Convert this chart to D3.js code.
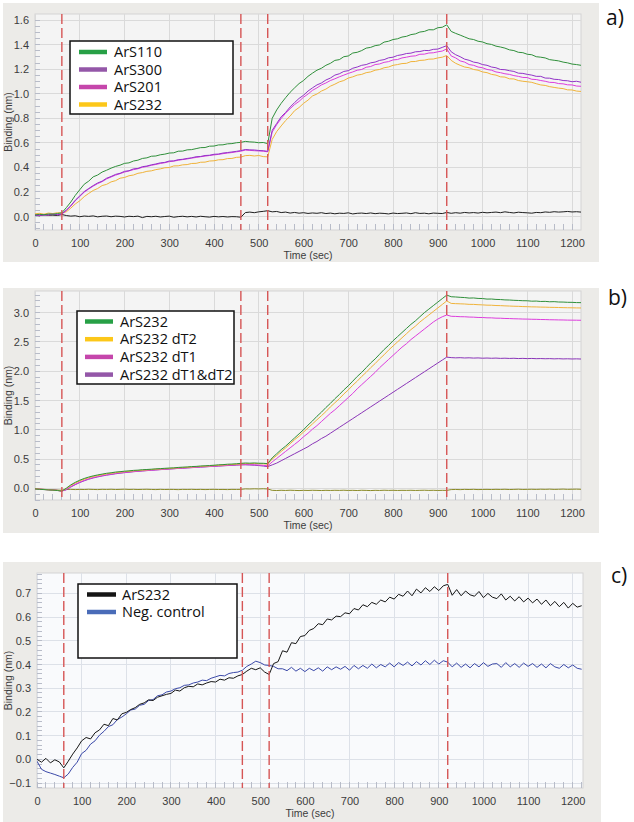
<!DOCTYPE html>
<html><head><meta charset="utf-8">
<script src="https://cdn.jsdelivr.net/npm/d3@7/dist/d3.min.js"></script>
<style>html,body{margin:0;padding:0;background:#fff;} svg{display:block;}</style>
</head><body>
<svg id="chart" width="634" height="822"></svg>
<script>
// ---------- DATA ----------
const timeSec = [0,10,20,30,40,50,60,70,80,90,100,110,120,130,140,150,160,170,180,190,200,210,220,230,240,250,260,270,280,290,300,310,320,330,340,350,360,370,380,390,400,410,420,430,440,450,460,470,480,490,500,510,520,530,540,550,560,570,580,590,600,610,620,630,640,650,660,670,680,690,700,710,720,730,740,750,760,770,780,790,800,810,820,830,840,850,860,870,880,890,900,910,920,930,940,950,960,970,980,990,1000,1010,1020,1030,1040,1050,1060,1070,1080,1090,1100,1110,1120,1130,1140,1150,1160,1170,1180,1190,1200,1210,1220];
const xTickValues = [0,100,200,300,400,500,600,700,800,900,1000,1100,1200];
const stepMarkers = [60,460,520,920];

// panel a
const aNames = ["ArS110","ArS300","ArS201","ArS232"];
const aArS110 = [0.012,0.018,0.014,0.021,0.019,0.024,0.03,
0.072,0.118,0.172,0.218,0.263,0.288,0.323,0.338,0.362,
0.377,0.394,0.408,0.418,0.433,0.437,0.452,0.459,0.473,0.478,
0.491,0.493,0.503,0.508,0.517,0.519,0.532,0.533,0.543,0.545,
0.553,0.561,0.562,0.573,0.574,0.583,0.584,0.592,0.594,0.601,
0.604,0.612,0.608,0.606,0.601,0.603,0.594,
0.8,0.868,0.922,0.968,1.012,1.048,1.083,1.108,1.142,1.168,
1.192,1.208,1.232,1.248,1.272,1.278,1.302,1.308,1.332,1.338,
1.352,1.372,1.378,1.392,1.398,1.421,1.428,1.442,1.448,1.462,
1.468,1.482,1.488,1.503,1.508,1.522,1.521,1.538,1.542,1.562,
1.508,1.492,1.478,1.463,1.448,1.442,1.428,1.422,1.408,1.402,
1.388,1.381,1.372,1.358,1.352,1.338,1.335,1.322,1.318,1.302,
1.298,1.292,1.278,1.273,1.268,1.258,1.252,1.242,1.238,1.232];
const aArS300 = [0.008,0.014,0.011,0.016,0.019,0.013,0.021,
0.052,0.088,0.133,0.168,0.203,0.228,0.252,0.273,0.288,
0.312,0.326,0.343,0.352,0.368,0.373,0.388,0.392,0.406,0.411,
0.421,0.428,0.437,0.441,0.452,0.453,0.463,0.466,0.473,0.478,
0.487,0.489,0.497,0.499,0.507,0.509,0.517,0.521,0.526,0.531,
0.537,0.546,0.543,0.542,0.538,0.536,0.531,
0.702,0.758,0.812,0.848,0.892,0.928,0.962,0.988,1.022,1.048,
1.072,1.088,1.112,1.128,1.152,1.163,1.182,1.188,1.208,1.218,
1.232,1.238,1.252,1.258,1.272,1.278,1.293,1.298,1.312,1.318,
1.328,1.331,1.342,1.344,1.353,1.352,1.362,1.364,1.378,1.392,
1.342,1.318,1.302,1.282,1.273,1.258,1.252,1.238,1.232,1.218,
1.212,1.198,1.196,1.188,1.182,1.168,1.166,1.158,1.152,1.142,
1.142,1.128,1.127,1.118,1.116,1.108,1.106,1.098,1.102,1.094];
const aArS201 = [0.012,0.009,0.015,0.012,0.017,0.016,0.019,
0.049,0.085,0.128,0.163,0.198,0.224,0.247,0.268,0.284,
0.306,0.322,0.337,0.349,0.362,0.371,0.382,0.389,0.401,0.408,
0.417,0.424,0.432,0.438,0.447,0.451,0.458,0.464,0.469,0.476,
0.481,0.487,0.492,0.497,0.502,0.506,0.512,0.517,0.521,0.527,
0.532,0.541,0.539,0.536,0.534,0.532,0.527,
0.688,0.748,0.798,0.842,0.878,0.912,0.938,0.972,0.998,1.028,
1.048,1.072,1.088,1.108,1.122,1.138,1.152,1.166,1.178,1.192,
1.198,1.216,1.222,1.238,1.243,1.256,1.262,1.276,1.279,1.292,
1.298,1.306,1.309,1.322,1.323,1.332,1.334,1.342,1.348,1.366,
1.308,1.292,1.268,1.258,1.238,1.232,1.218,1.212,1.198,1.192,
1.178,1.172,1.163,1.158,1.148,1.142,1.133,1.132,1.118,1.116,
1.108,1.102,1.093,1.092,1.083,1.081,1.073,1.072,1.063,1.061];
const aArS232 = [0.022,0.026,0.019,0.028,0.024,0.031,0.029,
0.038,0.068,0.102,0.128,0.162,0.188,0.212,0.228,0.252,
0.262,0.282,0.292,0.312,0.318,0.332,0.338,0.352,0.358,0.368,
0.372,0.382,0.388,0.397,0.399,0.412,0.413,0.421,0.423,0.432,
0.433,0.442,0.443,0.452,0.454,0.462,0.463,0.472,0.473,0.482,
0.484,0.496,0.498,0.493,0.497,0.488,0.486,
0.628,0.692,0.738,0.782,0.818,0.862,0.888,0.922,0.948,0.982,
0.998,1.022,1.038,1.062,1.078,1.097,1.108,1.128,1.138,1.152,
1.158,1.172,1.178,1.192,1.198,1.212,1.218,1.232,1.238,1.246,
1.248,1.262,1.263,1.272,1.274,1.282,1.283,1.292,1.298,1.312,
1.272,1.248,1.232,1.218,1.212,1.198,1.192,1.178,1.172,1.158,
1.152,1.138,1.136,1.122,1.121,1.108,1.102,1.098,1.093,1.082,
1.072,1.068,1.058,1.052,1.046,1.042,1.032,1.031,1.022,1.019];
const aReference = [0.012,0.006,0.014,0.009,0.011,0.008,0.016,
0.008,0.003,0.006,-0.002,0.004,0.001,0.005,-0.003,0.002,
0.004,-0.002,0.003,0.001,-0.004,0.002,-0.001,0.003,-0.009,0.001,
-0.002,0.002,-0.004,0.0,0.003,-0.006,-0.001,0.002,-0.003,0.001,
-0.004,0.002,-0.002,-0.005,0.001,-0.003,0.0,-0.004,-0.001,-0.002,
-0.006,0.032,0.036,0.031,0.038,0.042,0.047,
0.038,0.041,0.032,0.036,0.028,0.033,0.027,0.031,0.025,0.029,
0.026,0.031,0.024,0.028,0.022,0.027,0.025,0.03,0.021,0.026,
0.028,0.024,0.029,0.023,0.027,0.025,0.021,0.028,0.024,0.026,
0.029,0.023,0.031,0.025,0.027,0.022,0.028,0.026,0.024,0.033,
0.026,0.031,0.027,0.033,0.029,0.032,0.028,0.034,0.03,0.033,
0.036,0.031,0.038,0.033,0.029,0.035,0.032,0.03,0.027,0.033,
0.031,0.037,0.034,0.039,0.036,0.038,0.041,0.037,0.039,0.036];
const aYTicks = [0.0,0.2,0.4,0.6,0.8,1.0,1.2,1.4,1.6];

// panel b
const bNames = ["ArS232","ArS232 dT2","ArS232 dT1","ArS232 dT1&dT2"];
const bArS232 = [-0.01,-0.018,-0.022,-0.028,-0.031,-0.038,-0.048,
0.002,0.058,0.102,0.138,0.168,0.192,0.212,0.228,0.242,
0.256,0.265,0.277,0.284,0.292,0.298,0.306,0.31,0.317,0.321,
0.326,0.332,0.336,0.341,0.346,0.349,0.356,0.361,0.364,0.371,
0.374,0.381,0.384,0.389,0.394,0.401,0.404,0.411,0.414,0.419,
0.426,0.432,0.429,0.433,0.428,0.427,0.421,
0.52,0.59,0.66,0.72,0.79,0.86,0.93,1.0,1.08,1.15,
1.23,1.3,1.38,1.45,1.53,1.6,1.68,1.75,1.83,1.91,
1.98,2.06,2.14,2.21,2.29,2.37,2.44,2.52,2.59,2.66,
2.73,2.8,2.86,2.93,3.0,3.06,3.12,3.18,3.24,3.3,
3.272,3.268,3.262,3.258,3.249,3.251,3.243,3.241,3.232,3.233,
3.226,3.224,3.218,3.216,3.211,3.208,3.204,3.203,3.196,3.198,
3.191,3.193,3.186,3.188,3.182,3.181,3.177,3.176,3.172,3.171];
const bDT2 = [-0.008,-0.015,-0.02,-0.025,-0.03,-0.036,-0.045,
-0.005,0.048,0.09,0.126,0.156,0.18,0.2,0.217,0.232,
0.246,0.256,0.267,0.276,0.284,0.29,0.298,0.303,0.309,0.314,
0.32,0.325,0.33,0.334,0.339,0.344,0.349,0.354,0.358,0.363,
0.368,0.373,0.378,0.382,0.387,0.392,0.397,0.402,0.406,0.411,
0.417,0.422,0.421,0.424,0.42,0.418,0.413,
0.5,0.56,0.63,0.69,0.76,0.83,0.89,0.96,1.03,1.1,
1.17,1.24,1.31,1.39,1.46,1.53,1.61,1.68,1.76,1.83,
1.91,1.98,2.06,2.13,2.21,2.28,2.36,2.43,2.5,2.57,
2.64,2.71,2.77,2.84,2.9,2.96,3.02,3.08,3.14,3.2,
3.158,3.154,3.151,3.148,3.142,3.141,3.136,3.133,3.128,3.127,
3.122,3.12,3.116,3.113,3.11,3.108,3.104,3.102,3.099,3.098,
3.095,3.094,3.091,3.09,3.088,3.086,3.084,3.083,3.081,3.08];
const bDT1 = [-0.012,-0.016,-0.021,-0.026,-0.03,-0.037,-0.05,
-0.02,0.03,0.07,0.105,0.136,0.162,0.183,0.2,0.216,
0.23,0.241,0.253,0.262,0.271,0.278,0.286,0.292,0.298,0.304,
0.309,0.315,0.32,0.325,0.33,0.335,0.34,0.345,0.35,0.354,
0.359,0.364,0.368,0.373,0.377,0.382,0.386,0.391,0.395,0.4,
0.404,0.406,0.404,0.402,0.398,0.392,0.384,
0.45,0.51,0.57,0.63,0.69,0.75,0.81,0.88,0.94,1.01,
1.07,1.14,1.21,1.28,1.34,1.41,1.48,1.55,1.62,1.7,
1.77,1.84,1.91,1.98,2.06,2.13,2.2,2.27,2.34,2.41,
2.47,2.54,2.6,2.66,2.72,2.78,2.84,2.89,2.93,2.96,
2.938,2.936,2.931,2.93,2.925,2.923,2.918,2.917,2.912,2.911,
2.906,2.905,2.901,2.899,2.896,2.894,2.891,2.89,2.887,2.886,
2.883,2.882,2.879,2.878,2.876,2.875,2.873,2.872,2.871,2.87];
const bDT1dT2 = [-0.01,-0.015,-0.02,-0.024,-0.029,-0.035,-0.046,
-0.025,0.022,0.062,0.098,0.128,0.155,0.176,0.194,0.21,
0.224,0.236,0.248,0.258,0.267,0.275,0.283,0.29,0.296,0.302,
0.308,0.313,0.319,0.324,0.329,0.334,0.339,0.343,0.348,0.353,
0.357,0.362,0.366,0.371,0.375,0.379,0.384,0.388,0.392,0.396,
0.4,0.401,0.398,0.394,0.388,0.38,0.37,
0.4,0.43,0.47,0.51,0.55,0.59,0.63,0.67,0.71,0.76,
0.8,0.85,0.89,0.94,0.99,1.04,1.09,1.14,1.19,1.24,
1.29,1.34,1.39,1.44,1.49,1.54,1.59,1.64,1.69,1.74,
1.79,1.84,1.89,1.94,1.99,2.04,2.09,2.14,2.19,2.24,
2.232,2.228,2.231,2.226,2.229,2.224,2.227,2.222,2.225,2.221,
2.224,2.219,2.222,2.218,2.221,2.216,2.219,2.215,2.218,2.214,
2.216,2.213,2.215,2.211,2.214,2.21,2.212,2.209,2.211,2.208];
const bReference = [-0.008,-0.014,-0.018,-0.022,-0.026,-0.03,-0.034,
-0.02,-0.018,-0.022,-0.019,-0.021,-0.017,-0.02,-0.022,-0.018,
-0.02,-0.017,-0.021,-0.019,-0.016,-0.02,-0.018,-0.021,-0.019,-0.017,
-0.02,-0.022,-0.018,-0.021,-0.019,-0.02,-0.023,-0.019,-0.02,-0.018,
-0.021,-0.019,-0.022,-0.02,-0.018,-0.021,-0.02,-0.022,-0.019,-0.02,
-0.018,-0.01,-0.012,-0.009,-0.011,-0.008,-0.012,
-0.035,-0.038,-0.034,-0.037,-0.033,-0.036,-0.039,-0.035,-0.037,-0.034,
-0.036,-0.038,-0.035,-0.037,-0.034,-0.036,-0.033,-0.037,-0.035,-0.038,
-0.034,-0.036,-0.039,-0.035,-0.037,-0.033,-0.036,-0.034,-0.037,-0.035,
-0.036,-0.034,-0.037,-0.035,-0.033,-0.036,-0.034,-0.037,-0.035,-0.036,
-0.022,-0.02,-0.023,-0.019,-0.021,-0.018,-0.022,-0.02,-0.019,-0.021,
-0.018,-0.02,-0.017,-0.021,-0.019,-0.016,-0.02,-0.018,-0.017,-0.019,
-0.016,-0.018,-0.015,-0.019,-0.017,-0.014,-0.018,-0.016,-0.015,-0.017];
const bYTicks = [0.0,0.5,1.0,1.5,2.0,2.5,3.0];

// panel c
const cNames = ["ArS232","Neg. control"];
const cArS232 = [0.0,-0.012,0.004,-0.015,-0.002,-0.011,-0.036,
-0.008,0.022,0.048,0.078,0.092,0.086,0.112,0.124,0.148,
0.142,0.172,0.166,0.192,0.198,0.21,0.218,0.232,0.238,0.251,
0.248,0.262,0.268,0.274,0.278,0.292,0.288,0.302,0.308,0.306,
0.318,0.314,0.322,0.328,0.326,0.338,0.334,0.344,0.342,0.352,
0.358,0.372,0.384,0.378,0.386,0.368,0.358,
0.404,0.412,0.458,0.452,0.492,0.488,0.518,0.522,0.544,0.552,
0.572,0.568,0.592,0.588,0.604,0.602,0.618,0.614,0.636,0.63,
0.652,0.644,0.662,0.654,0.672,0.664,0.684,0.676,0.696,0.688,
0.71,0.69,0.718,0.702,0.724,0.708,0.728,0.712,0.732,0.738,
0.692,0.716,0.69,0.71,0.694,0.688,0.708,0.682,0.7,0.684,
0.678,0.698,0.672,0.688,0.668,0.686,0.664,0.68,0.66,0.676,
0.654,0.672,0.648,0.666,0.644,0.662,0.638,0.658,0.642,0.648];
const cNegControl = [-0.008,-0.042,-0.052,-0.058,-0.064,-0.071,-0.078,
-0.062,-0.034,-0.012,0.024,0.038,0.064,0.078,0.102,0.118,
0.138,0.146,0.168,0.178,0.192,0.208,0.212,0.228,0.232,0.248,
0.252,0.268,0.272,0.284,0.288,0.298,0.302,0.312,0.314,0.322,
0.326,0.334,0.332,0.342,0.348,0.354,0.352,0.362,0.366,0.368,
0.376,0.392,0.402,0.414,0.408,0.398,0.396,
0.392,0.382,0.382,0.374,0.388,0.372,0.384,0.37,0.384,0.374,
0.386,0.372,0.39,0.378,0.39,0.38,0.392,0.376,0.396,0.382,
0.396,0.384,0.402,0.386,0.4,0.39,0.406,0.39,0.408,0.396,
0.41,0.394,0.412,0.398,0.416,0.4,0.418,0.402,0.416,0.41,
0.39,0.406,0.388,0.402,0.386,0.404,0.39,0.408,0.392,0.402,
0.404,0.388,0.408,0.39,0.404,0.388,0.406,0.392,0.404,0.388,
0.402,0.386,0.404,0.39,0.384,0.4,0.386,0.398,0.384,0.38];
const cYTicks = [-0.1,0.0,0.1,0.2,0.3,0.4,0.5,0.6,0.7];

// ---------- DRAW ----------
const svg = d3.select("#chart");
const tickFont = "'Liberation Sans', Arial, sans-serif";
const legFont = "'Open Sans', 'Noto Sans', sans-serif";

function drawPanel(cfg) {
  const g = svg.append("g");
  g.append("rect").attr("x", cfg.outer[0]).attr("y", cfg.outer[1])
    .attr("width", cfg.outer[2]).attr("height", cfg.outer[3]).attr("fill", "#ecebe8");
  const x = d3.scaleLinear().domain(cfg.xDomain).range([cfg.left, cfg.right]);
  const y = d3.scaleLinear().domain(cfg.yDomain).range([cfg.bottom, cfg.top]);
  g.append("rect").attr("x", cfg.left).attr("y", cfg.top)
    .attr("width", cfg.right - cfg.left).attr("height", cfg.bottom - cfg.top)
    .attr("fill", cfg.plotBg).attr("stroke", "#d4d4d4");
  g.append("g").selectAll("line").data(xTickValues).join("line")
    .attr("x1", d => x(d)).attr("x2", d => x(d)).attr("y1", cfg.top).attr("y2", cfg.bottom)
    .attr("stroke", cfg.gridColor).attr("stroke-width", 1).attr("shape-rendering", "crispEdges");
  g.append("g").selectAll("line").data(cfg.yTicks).join("line")
    .attr("x1", cfg.left).attr("x2", cfg.right).attr("y1", d => y(d)).attr("y2", d => y(d))
    .attr("stroke", cfg.gridColor).attr("stroke-width", 1).attr("shape-rendering", "crispEdges");
  const xMinor = d3.range(0, cfg.xDomain[1], 20);
  g.append("g").selectAll("line").data(xMinor).join("line")
    .attr("x1", d => x(d)).attr("x2", d => x(d)).attr("y1", cfg.bottom).attr("y2", cfg.bottom - 6)
    .attr("stroke", "#b8bcc8").attr("shape-rendering", "crispEdges");
  const yMinor = d3.range(Math.ceil(cfg.yDomain[0] / cfg.yMinor) * cfg.yMinor, cfg.yDomain[1], cfg.yMinor);
  g.append("g").selectAll("line").data(yMinor).join("line")
    .attr("x1", cfg.left).attr("x2", cfg.left + 5).attr("y1", d => y(d)).attr("y2", d => y(d))
    .attr("stroke", "#b8bcc8").attr("shape-rendering", "crispEdges");
  const xAxis = d3.axisBottom(x).tickValues(xTickValues).tickSize(0).tickPadding(0).tickFormat(d3.format("d"));
  const xa = g.append("g").attr("transform", `translate(0,${cfg.bottom + 17})`).call(xAxis);
  xa.select(".domain").remove();
  xa.selectAll("text").attr("dy", 0).attr("font-family", tickFont).attr("font-size", 11).attr("fill", "#3c3c3c");
  const yAxis = d3.axisLeft(y).tickValues(cfg.yTicks).tickSize(0).tickPadding(0).tickFormat(d3.format(".1f"));
  const ya = g.append("g").attr("transform", `translate(${cfg.left - 6},0)`).call(yAxis);
  ya.select(".domain").remove();
  ya.selectAll("text").attr("font-family", tickFont).attr("font-size", 11).attr("fill", "#3c3c3c");
  g.append("text").attr("x", (cfg.left + cfg.right) / 2).attr("y", cfg.bottom + 29)
    .attr("text-anchor", "middle").attr("font-family", tickFont).attr("font-size", 10.5).attr("fill", "#3c3c3c")
    .text("Time (sec)");
  g.append("text").attr("transform", `translate(12,${(cfg.top + cfg.bottom) / 2}) rotate(-90)`)
    .attr("text-anchor", "middle").attr("font-family", tickFont).attr("font-size", 10.5).attr("fill", "#3c3c3c")
    .text("Binding (nm)");
  const clipId = "clip" + cfg.id;
  g.append("clipPath").attr("id", clipId).append("rect")
    .attr("x", cfg.left).attr("y", cfg.top).attr("width", cfg.right - cfg.left).attr("height", cfg.bottom - cfg.top);
  const line = d3.line().x((d, i) => x(timeSec[i])).y(d => y(d));
  const lg = g.append("g").attr("clip-path", `url(#${clipId})`);
  cfg.series.forEach(s => {
    lg.append("path").datum(s.values).attr("d", line).attr("fill", "none")
      .attr("stroke", s.color).attr("stroke-width", 1).attr("stroke-linejoin", "round");
  });
  g.append("g").selectAll("line").data(stepMarkers).join("line")
    .attr("x1", d => x(d)).attr("x2", d => x(d)).attr("y1", cfg.top).attr("y2", cfg.bottom)
    .attr("stroke", "#d65555").attr("stroke-width", 1.4).attr("stroke-dasharray", "10,4");
  const L = cfg.legend;
  g.append("rect").attr("x", L.x).attr("y", L.y).attr("width", L.w).attr("height", L.h)
    .attr("fill", "#fff").attr("stroke", "#111").attr("stroke-width", 1.5);
  cfg.legendItems.forEach((it, i) => {
    const yy = L.y + L.first + i * L.step;
    g.append("line").attr("x1", L.lx1).attr("x2", L.lx2).attr("y1", yy).attr("y2", yy)
      .attr("stroke", it.color).attr("stroke-width", 4.5);
    g.append("text").attr("x", L.tx).attr("y", yy).attr("dy", "0.35em")
      .attr("font-family", legFont).attr("font-size", 14.5).attr("fill", "#111").text(it.name);
  });
  g.append("text").attr("x", cfg.labelPos[0]).attr("y", cfg.labelPos[1])
    .attr("font-family", legFont).attr("font-size", 21).attr("fill", "#111").text(cfg.label);
}

drawPanel({
  id: "a", outer: [3, 3, 596, 259], left: 35, right: 581, top: 14, bottom: 230,
  xDomain: [0, 1220], yDomain: [-0.11, 1.65], yTicks: aYTicks, yMinor: 0.05,
  plotBg: "#f4f4f4", gridColor: "#dadada",
  series: [
    {values: aReference, color: "#1e1e1e"},
    {values: aArS232, color: "#f0b33a"},
    {values: aArS201, color: "#dd3ddd"},
    {values: aArS300, color: "#9233c8"},
    {values: aArS110, color: "#2f8f3a"}
  ],
  legend: {x: 70, y: 41, w: 163, h: 73, first: 11, step: 17.5, lx1: 79, lx2: 107, tx: 114},
  legendItems: [
    {name: aNames[0], color: "#27a046"}, {name: aNames[1], color: "#9457a8"},
    {name: aNames[2], color: "#c546ab"}, {name: aNames[3], color: "#fcc719"}],
  label: "a)", labelPos: [606, 25]
});
drawPanel({
  id: "b", outer: [3, 288, 596, 245], left: 35, right: 581, top: 291, bottom: 500,
  xDomain: [0, 1220], yDomain: [-0.2, 3.37], yTicks: bYTicks, yMinor: 0.1,
  plotBg: "#f4f4f4", gridColor: "#dadada",
  series: [
    {values: bReference, color: "#8a8a28"},
    {values: bDT1dT2, color: "#8a35b8"},
    {values: bDT1, color: "#dd3ddd"},
    {values: bDT2, color: "#f0b33a"},
    {values: bArS232, color: "#2f8f3a"}
  ],
  legend: {x: 77, y: 311, w: 157, h: 73, first: 10.5, step: 17.7, lx1: 85, lx2: 113, tx: 120},
  legendItems: [
    {name: bNames[0], color: "#27a046"}, {name: bNames[1], color: "#fcc719"},
    {name: bNames[2], color: "#c546ab"}, {name: bNames[3], color: "#9457a8"}],
  label: "b)", labelPos: [608, 305]
});
drawPanel({
  id: "c", outer: [3, 562, 598, 260], left: 37, right: 583, top: 573, bottom: 788,
  xDomain: [0, 1223], yDomain: [-0.121, 0.786], yTicks: cYTicks, yMinor: 0.02,
  plotBg: "#f9fafc", gridColor: "#dde1e8",
  series: [
    {values: cNegControl, color: "#3a48a8"},
    {values: cArS232, color: "#151515"}
  ],
  legend: {x: 78, y: 584, w: 159, h: 74, first: 10.5, step: 17.5, lx1: 87, lx2: 116, tx: 122},
  legendItems: [
    {name: cNames[0], color: "#151515"}, {name: cNames[1], color: "#4a6cb8"}],
  label: "c)", labelPos: [611, 583]
});
</script>
</body></html>
